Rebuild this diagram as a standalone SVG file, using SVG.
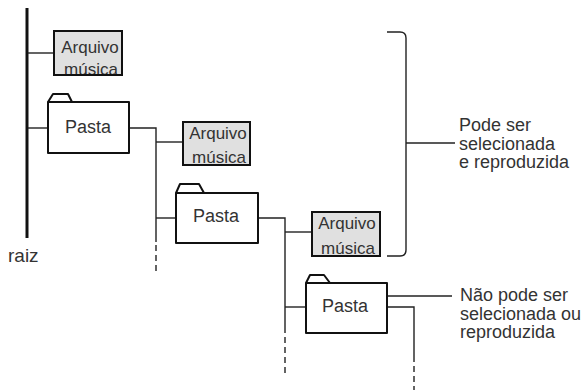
<svg xmlns="http://www.w3.org/2000/svg" width="584" height="390" viewBox="0 0 584 390">
<style>
  text { font-family: "Liberation Sans", Arial, sans-serif; fill: #333; }
  .lbl { font-size: 18px; }
  .file-text { font-size: 17px; text-anchor: middle; }
  .folder-text { font-size: 18px; text-anchor: middle; }
  .file-bg { fill: #e0e0e0; stroke: none; }
  .file-border { fill: none; stroke: #111; stroke-width: 2; }
  .folder { fill: #fff; stroke: #111; stroke-width: 2; stroke-linejoin: round; }
  .conn { fill: none; stroke: #222; stroke-width: 1.4; }
  .dash { fill: none; stroke: #222; stroke-width: 1.4; stroke-dasharray: 6 4; }
  .root { stroke: #111; stroke-width: 3; }
</style>
<rect width="584" height="390" fill="#fff"/>

<g id="connectors">
  <line class="root" x1="27" y1="8" x2="27" y2="238"/>
  <line class="conn" x1="28" y1="53" x2="54" y2="53"/>
  <line class="conn" x1="28" y1="128" x2="48" y2="128"/>
  <polyline class="conn" points="129,128 156,128 156,242"/>
  <line class="dash" x1="156" y1="245" x2="156" y2="271"/>
  <line class="conn" x1="156" y1="142" x2="183" y2="142"/>
  <line class="conn" x1="156" y1="218" x2="176" y2="218"/>
  <polyline class="conn" points="258,218 285,218 285,333"/>
  <line class="dash" x1="285" y1="337" x2="285" y2="373"/>
  <line class="conn" x1="285" y1="232" x2="312" y2="232"/>
  <line class="conn" x1="285" y1="307" x2="306" y2="307"/>
  <polyline class="conn" points="387,307 414,307 414,362"/>
  <line class="dash" x1="414" y1="366" x2="414" y2="390"/>
  <path class="conn" d="M387,32 L400,32 Q406,32 406,38 L406,250 Q406,256 400,256 L387,256"/>
  <line class="conn" x1="406" y1="143" x2="455" y2="143"/>
  <line class="conn" x1="383" y1="296" x2="452" y2="296"/>
</g>

<g id="raiz">
  <text class="lbl" x="8" y="262" style="font-size:19px">raiz</text>
</g>

<g id="arquivo1">
  <rect class="file-bg" x="54" y="31" width="68" height="44"/>
  <text class="file-text" x="90" y="53">Arquivo</text>
  <text class="file-text" x="91" y="75">música</text>
  <rect class="file-border" x="54" y="31" width="68" height="44"/>
</g>

<g id="pasta1">
  <path class="folder" d="M48,102 L53,94 L68,94 L72,102"/>
  <rect class="folder" x="48" y="102" width="81" height="51"/>
  <text class="folder-text" x="88" y="133">Pasta</text>
</g>

<g id="arquivo2">
  <rect class="file-bg" x="183" y="122" width="67" height="43"/>
  <text class="file-text" x="218" y="139">Arquivo</text>
  <text class="file-text" x="219" y="163">música</text>
  <rect class="file-border" x="183" y="122" width="67" height="43"/>
</g>

<g id="pasta2">
  <path class="folder" d="M176,193 L180,184 L199,184 L204,193"/>
  <rect class="folder" x="176" y="193" width="82" height="50"/>
  <text class="folder-text" x="216" y="222">Pasta</text>
</g>

<g id="arquivo3">
  <rect class="file-bg" x="312" y="212" width="68" height="44"/>
  <text class="file-text" x="347" y="229">Arquivo</text>
  <text class="file-text" x="348" y="254">música</text>
  <rect class="file-border" x="312" y="212" width="68" height="44"/>
</g>

<g id="pasta3">
  <path class="folder" d="M306,283 L310,275 L324,275 L330,283"/>
  <rect class="folder" x="306" y="283" width="81" height="50"/>
  <text class="folder-text" x="345" y="312">Pasta</text>
</g>

<g id="label-pode">
  <text class="lbl" x="459" y="131">Pode ser</text>
  <text class="lbl" x="459" y="149.5">selecionada</text>
  <text class="lbl" x="459" y="168">e reproduzida</text>
</g>

<g id="label-nao-pode">
  <text class="lbl" x="460" y="301">Não pode ser</text>
  <text class="lbl" x="460" y="319.5">selecionada ou</text>
  <text class="lbl" x="460" y="338">reproduzida</text>
</g>
</svg>
